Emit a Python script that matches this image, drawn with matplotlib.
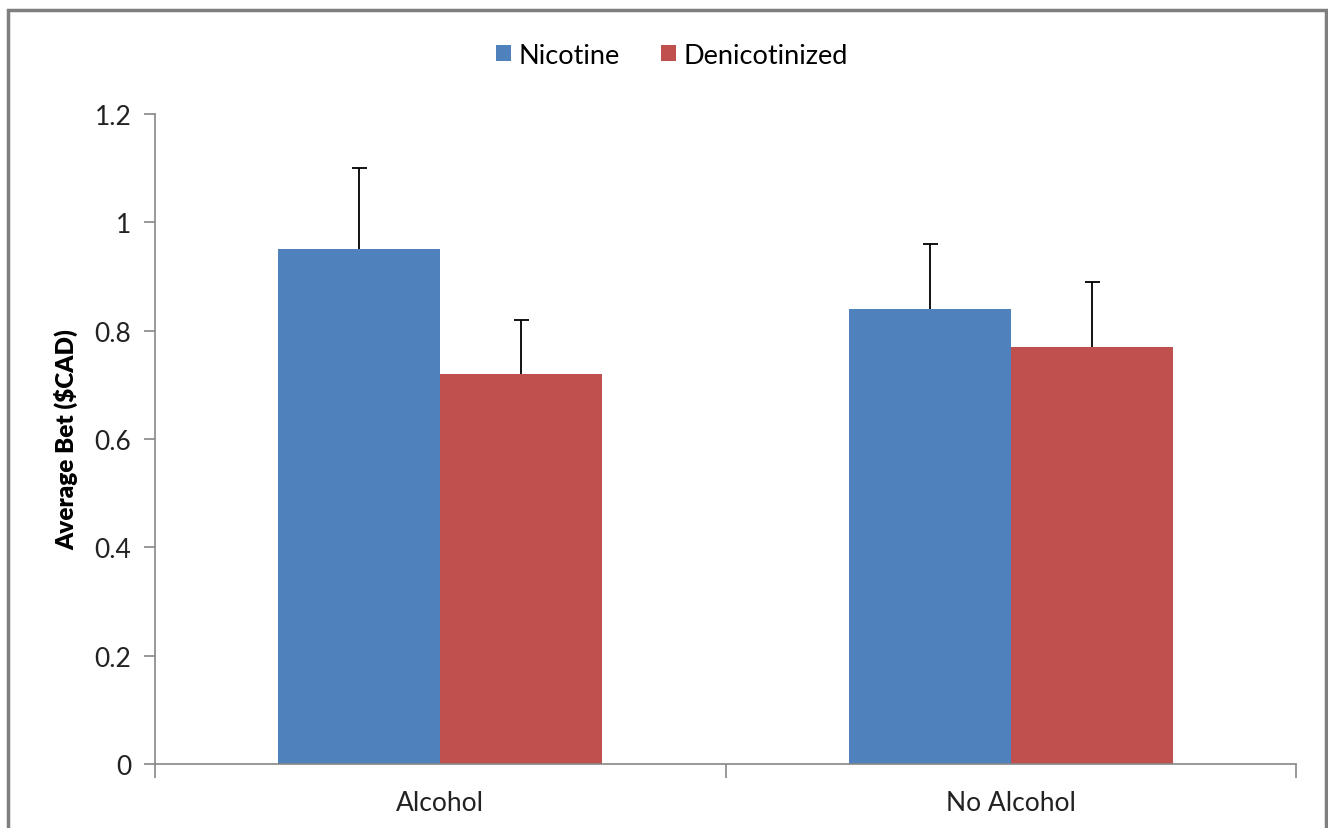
import matplotlib
matplotlib.use("Agg")
import matplotlib.pyplot as plt
import numpy as np
from matplotlib.patches import Rectangle

categories = ["Alcohol", "No Alcohol"]
series_names = ["Nicotine", "Denicotinized"]
nicotine = [0.95, 0.84]
denicotinized = [0.72, 0.77]
nicotine_err = [0.15, 0.12]
denicotinized_err = [0.10, 0.12]
yticks = [0, 0.2, 0.4, 0.6, 0.8, 1, 1.2]
ytick_labels = ["0", "0.2", "0.4", "0.6", "0.8", "1", "1.2"]

colors = ["#4F81BD", "#C0504D"]
axis_gray = "#868686"

plt.rcParams['font.family'] = ['Lato', 'DejaVu Sans']

fig = plt.figure(figsize=(13.28, 8.29), dpi=100)
ax = fig.add_axes([155/1328, 1 - 765/829, (1296-155)/1328, (765-115)/829])

x = np.arange(len(categories))
w = 0.284
vals = [nicotine, denicotinized]
errs = [nicotine_err, denicotinized_err]
offsets = [-w/2, w/2]
for i in range(2):
    ax.bar(x + offsets[i], vals[i], width=w, color=colors[i], label=series_names[i],
           zorder=2)
    eb = ax.errorbar(x + offsets[i], vals[i], yerr=[np.zeros(len(errs[i])), errs[i]],
                     fmt='none', ecolor='black', elinewidth=1.3, capsize=5.4,
                     capthick=1.3, zorder=3)
    caps = eb[1]
    if len(caps) >= 2:
        caps[0].set_visible(False)

ax.set_xlim(-0.5, 1.5)
ax.set_ylim(0, 1.2)
ax.set_yticks(yticks)
ax.set_yticklabels(ytick_labels)
ax.set_xticks(x)
ax.set_xticklabels(categories)
ax.tick_params(axis='y', direction='out', length=8, width=1.2, color=axis_gray,
               labelsize=19, pad=9, labelcolor='#222222')
ax.tick_params(axis='x', length=0, labelsize=19, pad=19, labelcolor='#222222')
ax.set_xticks([-0.5, 0.5, 1.5], minor=True)
ax.tick_params(axis='x', which='minor', direction='out', length=10, width=1.2,
               color=axis_gray)

for s in ['top', 'right']:
    ax.spines[s].set_visible(False)
for s in ['left', 'bottom']:
    ax.spines[s].set_color(axis_gray)
    ax.spines[s].set_linewidth(1.2)

ax.set_ylabel("Average Bet ($CAD)", fontsize=17.5, fontweight='heavy', labelpad=12)

fig.legend(loc='center', bbox_to_anchor=(0.506, 1 - 56/829), ncol=2, frameon=False,
           fontsize=19.5, handlelength=0.55, handleheight=0.55, columnspacing=1.5,
           handletextpad=0.3)

fig.patches.append(Rectangle((8/1328, -0.01), (1326-8)/1328, 1 - 11/829 + 0.01,
                             transform=fig.transFigure, fill=False,
                             edgecolor='#7f7f7f', linewidth=2.5))

fig.savefig("out.png", dpi=100, facecolor='white')
